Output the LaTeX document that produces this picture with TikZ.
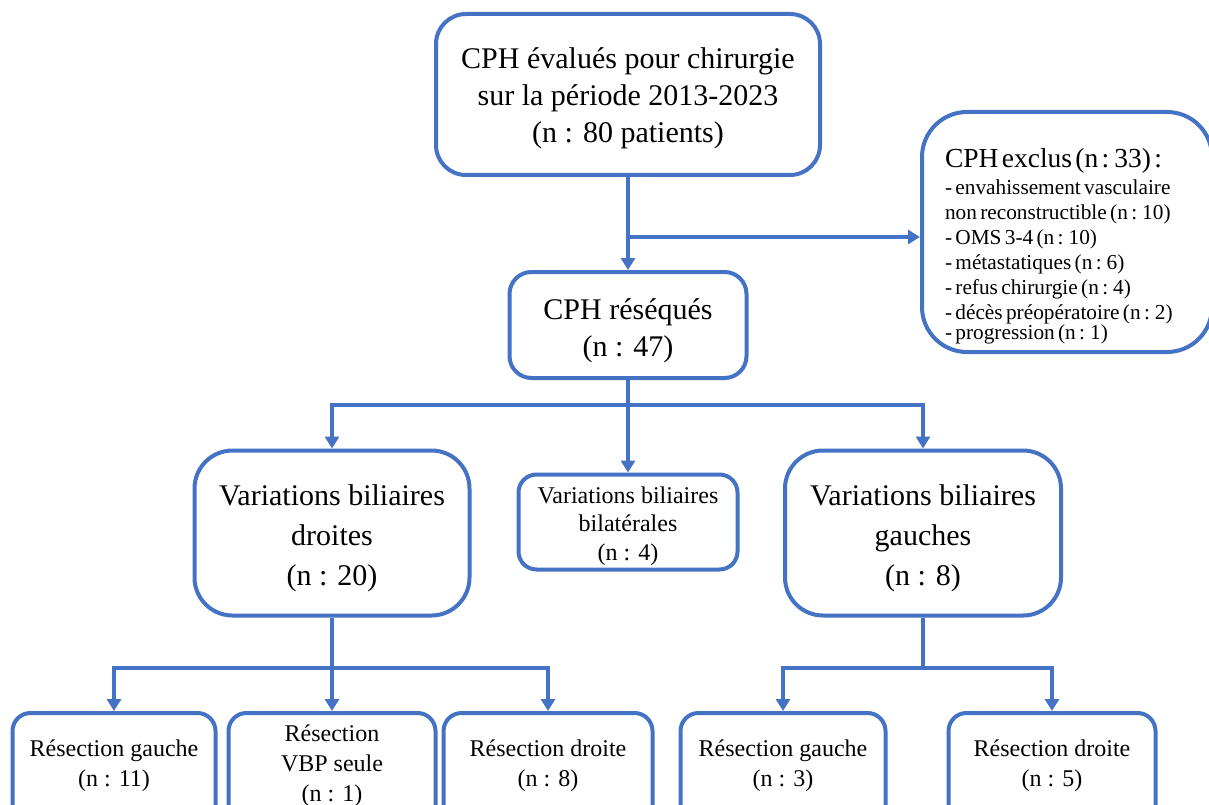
\documentclass[tikz,border=0pt]{standalone}
\usepackage{fontspec}
\setmainfont{Liberation Serif}
\usetikzlibrary{arrows.meta}
\definecolor{ob}{HTML}{4472C4}
% first-line and last-line struts, to place the text block inside its box
\newcommand\topstrut[1]{\rule{0pt}{#1pt}}
\newcommand\botstrut[1]{\rule[-#1pt]{0pt}{#1pt}}
\begin{document}
\begin{tikzpicture}[x=1pt,y=-1pt,
  rbox/.style={draw=ob, line width=4pt, rounded corners=#1, align=center, inner sep=0pt, fill=white},
  rbox/.default=20pt,
  bigtxt/.style={font=\fontsize{30}{37}\selectfont},
  midtxt/.style={font=\fontsize{30}{40}\selectfont},
  smalltxt/.style={font=\fontsize{24}{30}\selectfont},
  ln/.style={draw=ob, line width=4pt},
  arr/.style={draw=ob, line width=4pt, -{Triangle[width=14pt,length=12pt]}}]
\useasboundingbox (0,0) rectangle (1209,805);
\clip (0,0) rectangle (1209,805);
% main boxes
\node[rbox=30pt, bigtxt, minimum width=384pt, minimum height=161pt] (top) at (628,94.5)
  {\topstrut{32.5}CPH évalués pour chirurgie\\sur la période 2013-2023\\(n : 80 patients)\botstrut{10}};
\node[rbox=45pt, minimum width=290pt, minimum height=240pt, align=left, text width=244pt] (excl) at (1067,232)
  {{\fontsize{27.5}{27}\selectfont\topstrut{49}CPH exclus (n : 33) :}\\[2pt]
   \fontsize{21.3}{25}\selectfont
   - envahissement vasculaire\\
   non reconstructible (n : 10)\\
   - OMS 3-4 (n : 10)\\
   - métastatiques (n : 6)\\
   - refus chirurgie (n : 4)\\
   - décès préopératoire (n : 2)\\
   - progression (n : 1)\botstrut{6}};
\node[rbox=22pt, bigtxt, minimum width=237pt, minimum height=106pt] (res) at (628,325)
  {\topstrut{36.5}CPH réséqués\\(n : 47)\botstrut{10}};
\node[rbox=38pt, midtxt, minimum width=275pt, minimum height=165pt] (dro) at (332,533)
  {\topstrut{34}Variations biliaires\\droites\\(n : 20)\botstrut{10}};
\node[rbox=18pt, font=\fontsize{24}{28.5}\selectfont, minimum width=219pt, minimum height=95pt] (bil) at (628,522)
  {\topstrut{27.2}Variations biliaires\\bilatérales\\(n : 4)\botstrut{8}};
\node[rbox=38pt, midtxt, minimum width=276pt, minimum height=165pt] (gau) at (923,533)
  {\topstrut{34}Variations biliaires\\gauches\\(n : 8)\botstrut{10}};
% bottom boxes (cut by the lower edge of the picture)
\node[rbox=18pt, smalltxt, minimum width=203pt, minimum height=120pt] (b1) at (114,773)
  {\topstrut{19.3}Résection gauche\\(n : 11)\botstrut{22}};
\node[rbox=18pt, smalltxt, minimum width=207pt, minimum height=120pt] (b2) at (332,773)
  {\topstrut{19.3}Résection\\VBP seule\\(n : 1)\botstrut{22}};
\node[rbox=18pt, smalltxt, minimum width=209pt, minimum height=120pt] (b3) at (548,773)
  {\topstrut{19.3}Résection droite\\(n : 8)\botstrut{22}};
\node[rbox=18pt, smalltxt, minimum width=205pt, minimum height=120pt] (b4) at (783,773)
  {\topstrut{19.3}Résection gauche\\(n : 3)\botstrut{22}};
\node[rbox=18pt, smalltxt, minimum width=207pt, minimum height=120pt] (b5) at (1052,773)
  {\topstrut{19.3}Résection droite\\(n : 5)\botstrut{22}};
% connectors
\draw[arr] (top.south) -- (res.north);
\path (top.south) ++(0,60) coordinate (s0);
\draw[arr] (s0) -- (s0 -| excl.west);
\path (res.south) ++(0,25) coordinate (s1);
\draw[arr] (res.south) -- (bil.north);
\draw[arr] (s1) -| (dro.north);
\draw[arr] (s1) -| (gau.north);
\path (dro.south) ++(0,50) coordinate (s2);
\draw[arr] (dro.south) -- (b2.north);
\draw[arr] (s2) -| (b1.north);
\draw[arr] (s2) -| (b3.north);
\path (gau.south) ++(0,50) coordinate (s3);
\draw[ln] (gau.south) -- (s3);
\draw[arr] (s3) -| (b4.north);
\draw[arr] (s3) -| (b5.north);
\end{tikzpicture}
\end{document}
